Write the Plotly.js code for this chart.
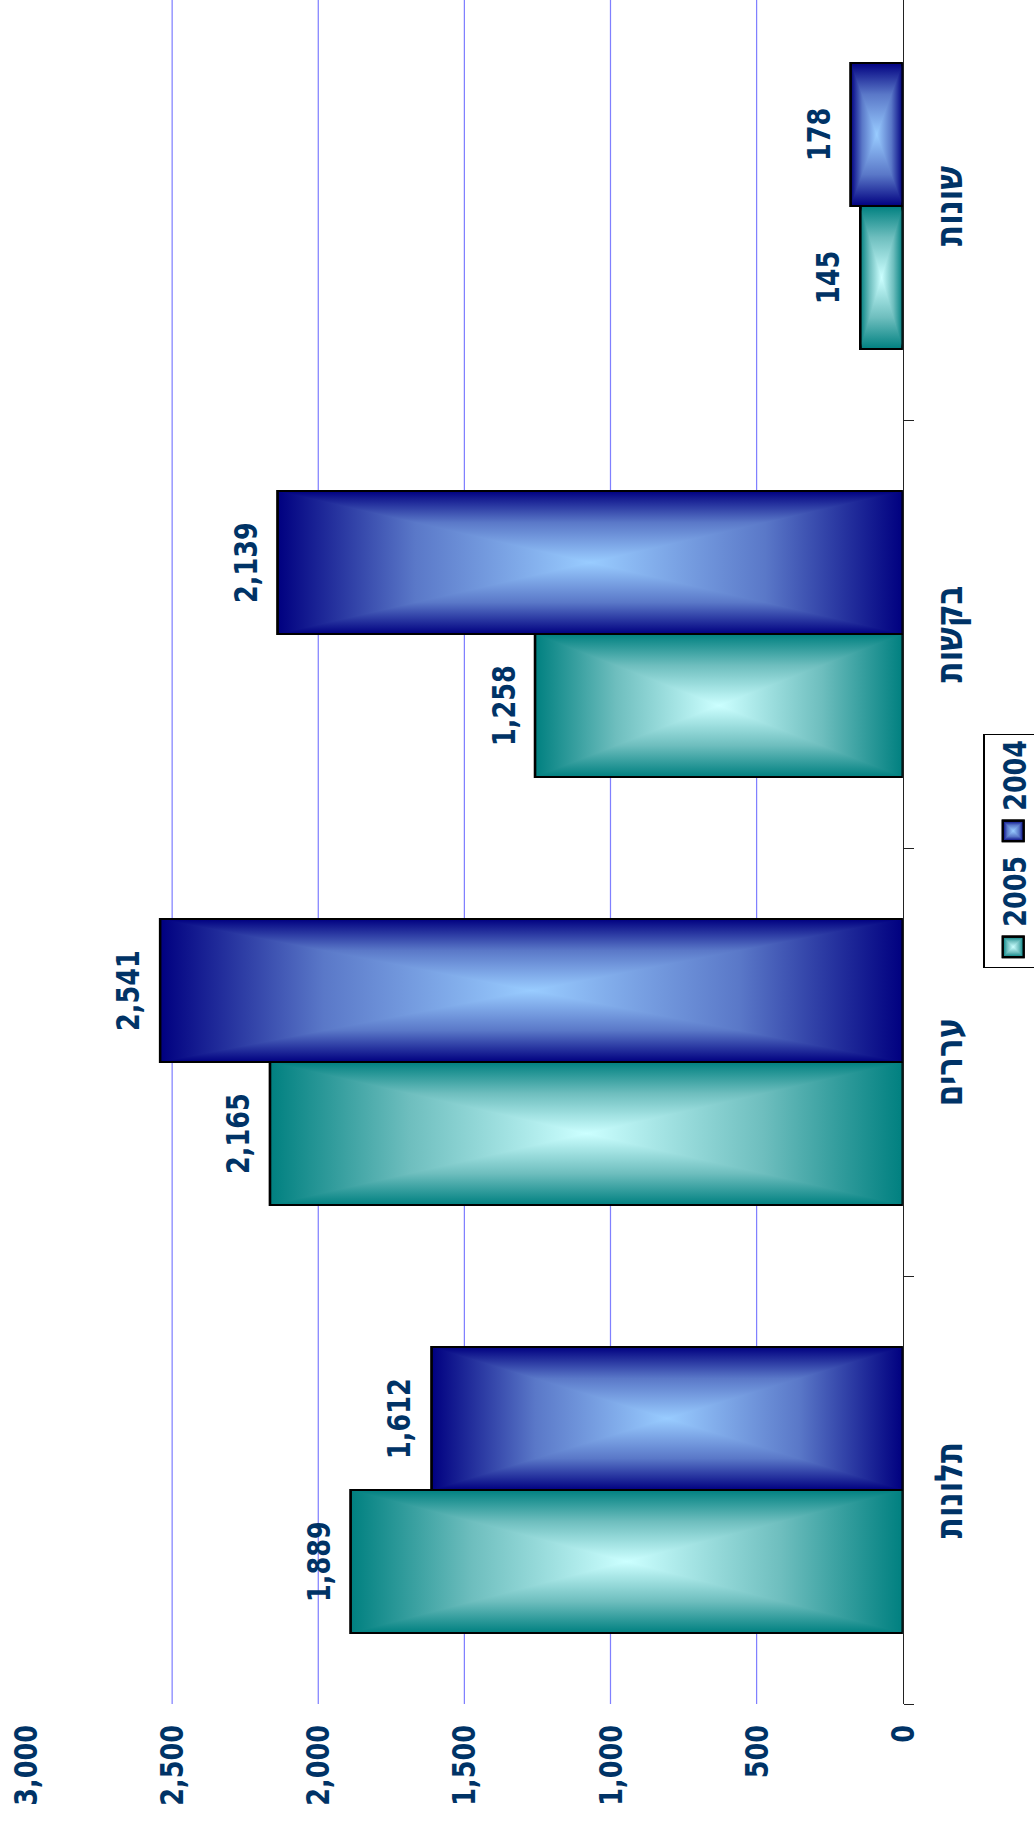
<!DOCTYPE html>
<html>
<head>
<meta charset="utf-8">
<script src="https://cdn.plot.ly/plotly-3.0.1.min.js"></script>
<style>
html, body { margin: 0; padding: 0; background: #ffffff; overflow: hidden; width: 1034px; height: 1827px; }
#chart {
  position: absolute; left: 0; top: 0;
  width: 1835px; height: 834px;
  transform-origin: 0 0;
  transform: translateY(1827px) rotate(-90deg) scaleY(1.24);
}
</style>
</head>
<body>
<div id="chart"></div>
<script>
// ---- data ----
const CATEGORIES = ['תלונות', 'עררים', 'בקשות', 'שונות'];
const SERIES_NAMES = ['2005', '2004'];
const VALUES_2005 = [1889, 2165, 1258, 145];
const VALUES_2004 = [1612, 2541, 2139, 178];
const VALUE_TICKS = [0, 500, 1000, 1500, 2000, 2500, 3000];
const VALUE_TICK_LABELS = ['0', '500', '1,000', '1,500', '2,000', '2,500', '3,000'];
const GRID_VALUES = [500, 1000, 1500, 2000, 2500];

// ---- style ----
const TEXT_COLOR = '#003366';
const FONT_FAMILY = 'DejaVu Sans, Verdana, sans-serif';
const EDGE_COLORS = ['rgb(0,128,128)', 'rgb(0,0,128)'];
const MID_COLORS = ['rgb(110,190,190)', 'rgb(90,120,200)'];
const CENTER_COLORS = ['rgb(204,255,255)', 'rgb(153,204,255)'];
const BAR_HALF = 71.5;
const fmt = v => v.toLocaleString('en-US');

const seriesValues = [VALUES_2005, VALUES_2004];

const traces = seriesValues.map((vals, i) => ({
  type: 'bar',
  name: SERIES_NAMES[i],
  x: CATEGORIES,
  y: vals,
  marker: { color: EDGE_COLORS[i], line: { color: '#000000', width: 2 } },
  hoverinfo: 'skip'
}));

const annotations = [];
seriesValues.forEach((vals, i) => {
  vals.forEach((v, j) => {
    annotations.push({
      x: CATEGORIES[j], y: v, xref: 'x', yref: 'y',
      text: fmt(v), showarrow: false,
      xshift: i === 0 ? -BAR_HALF : BAR_HALF,
      yanchor: 'bottom', yshift: 9,
      font: { family: FONT_FAMILY, weight: 700, size: 25.5, color: TEXT_COLOR }
    });
  });
});

const shapes = GRID_VALUES.map(v => ({
  type: 'line', xref: 'paper', yref: 'y', x0: 0, x1: 1, y0: v, y1: v,
  line: { color: 'rgb(128,128,255)', width: 1 }, layer: 'below'
}));

const layout = {
  width: 1835, height: 834,
  margin: { l: 123, r: 0, t: 21, b: 106, autoexpand: false },
  paper_bgcolor: '#ffffff', plot_bgcolor: '#ffffff',
  barmode: 'group', bargap: 0.3318, bargroupgap: 0,
  font: { family: FONT_FAMILY, weight: 700, size: 25.5, color: TEXT_COLOR },
  xaxis: {
    type: 'category', categoryorder: 'array', categoryarray: CATEGORIES,
    range: [-0.5, 3.5],
    showline: true, linecolor: '#222222', linewidth: 1,
    ticks: 'outside', tickson: 'boundaries', ticklen: 8, tickcolor: '#222222', tickwidth: 1,
    showgrid: false, zeroline: false, ticklabelstandoff: 10,
    tickfont: { family: FONT_FAMILY, weight: 700, size: 31, color: TEXT_COLOR }
  },
  yaxis: {
    range: [0, 3000], tickmode: 'array', tickvals: VALUE_TICKS, ticktext: VALUE_TICK_LABELS,
    showgrid: false, zeroline: false, showline: false, ticks: '', ticklabelstandoff: 20,
    tickfont: { family: FONT_FAMILY, weight: 700, size: 25.5, color: TEXT_COLOR }
  },
  showlegend: true,
  legend: {
    orientation: 'h', x: 0.43, xanchor: 'left', y: -0.092, yanchor: 'top',
    bordercolor: '#000000', borderwidth: 1, bgcolor: '#ffffff', traceorder: 'normal',
    font: { family: FONT_FAMILY, weight: 700, size: 25.5, color: TEXT_COLOR }
  },
  shapes: shapes,
  annotations: annotations
};

const NS = 'http://www.w3.org/2000/svg';

function makeGrad(defs, id, vertical, edge, mid, center) {
  const g = document.createElementNS(NS, 'linearGradient');
  g.setAttribute('id', id);
  g.setAttribute('x1', '0'); g.setAttribute('y1', '0');
  g.setAttribute('x2', vertical ? '0' : '1'); g.setAttribute('y2', vertical ? '1' : '0');
  [[0, edge], [0.22, mid], [0.5, center], [0.78, mid], [1, edge]].forEach(([o, c]) => {
    const s = document.createElementNS(NS, 'stop');
    s.setAttribute('offset', o);
    s.setAttribute('stop-color', c);
    g.appendChild(s);
  });
  defs.appendChild(g);
}

function decorate(path, i) {
  const bb = path.getBBox();
  if (!bb.width || !bb.height) return;
  const x0 = bb.x, x1 = bb.x + bb.width, y0 = bb.y, y1 = bb.y + bb.height;
  const cx = (x0 + x1) / 2, cy = (y0 + y1) / 2;
  path.style.fill = 'url(#gx' + i + ')';
  path.style.fillOpacity = 1;
  const ov = document.createElementNS(NS, 'path');
  ov.setAttribute('d', `M${x0},${y0}L${x1},${y0}L${cx},${cy}ZM${x0},${y1}L${x1},${y1}L${cx},${cy}Z`);
  ov.setAttribute('fill', 'url(#gy' + i + ')');
  ov.setAttribute('stroke', 'none');
  const tr = path.getAttribute('transform');
  if (tr) ov.setAttribute('transform', tr);
  const st = path.cloneNode(false);
  st.style.fill = 'none';
  path.parentNode.insertBefore(ov, path.nextSibling);
  path.parentNode.insertBefore(st, ov.nextSibling);
}

Plotly.newPlot('chart', traces, layout, { staticPlot: true, displayModeBar: false }).then(() => {
  const svg = document.querySelector('#chart .main-svg');
  let defs = svg.querySelector('defs');
  if (!defs) { defs = document.createElementNS(NS, 'defs'); svg.insertBefore(defs, svg.firstChild); }
  [0, 1].forEach(i => {
    makeGrad(defs, 'gx' + i, false, EDGE_COLORS[i], MID_COLORS[i], CENTER_COLORS[i]);
    makeGrad(defs, 'gy' + i, true, EDGE_COLORS[i], MID_COLORS[i], CENTER_COLORS[i]);
  });
  document.querySelectorAll('#chart .barlayer .trace').forEach((t, i) => {
    Array.from(t.querySelectorAll('path')).forEach(p => decorate(p, i));
  });
  document.querySelectorAll('#chart .legend .traces').forEach((t, i) => {
    const p = t.querySelector('.legendpoints path');
    if (!p) return;
    p.setAttribute('transform', ((p.getAttribute('transform') || '') + ' scale(1.7,1.4)').trim());
    p.style.strokeWidth = '1.3px';
    decorate(p, i);
  });
});
</script>
</body>
</html>
